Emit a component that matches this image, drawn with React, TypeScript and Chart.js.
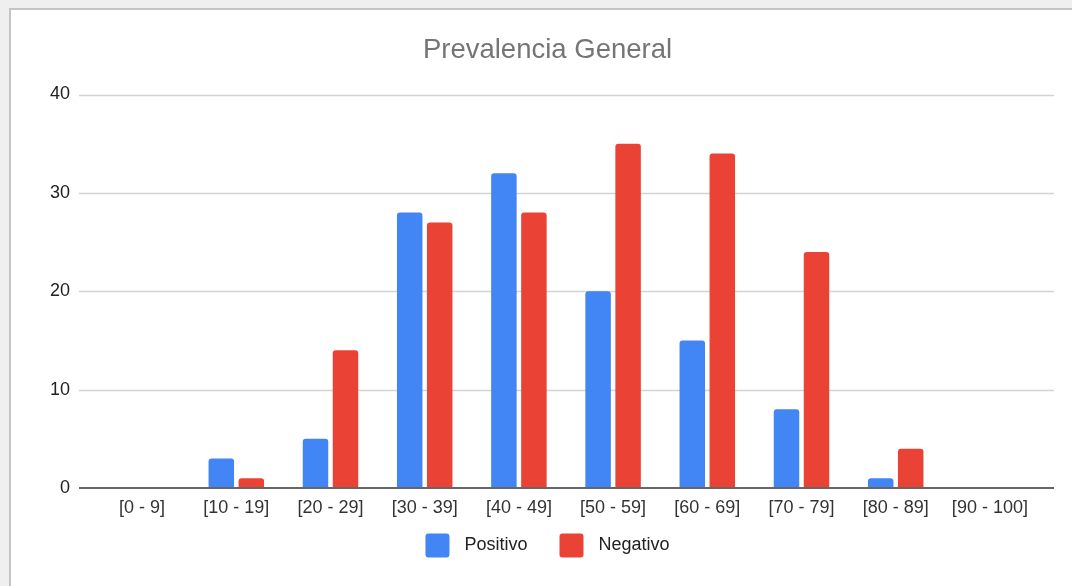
import React, { useEffect, useRef } from "react";
import { Chart, registerables } from "chart.js";

Chart.register(...registerables);

const categories = ["[0 - 9]", "[10 - 19]", "[20 - 29]", "[30 - 39]", "[40 - 49]", "[50 - 59]", "[60 - 69]", "[70 - 79]", "[80 - 89]", "[90 - 100]"];
const positivo = [0, 3, 5, 28, 32, 20, 15, 8, 1, 0];
const negativo = [0, 1, 14, 27, 28, 35, 34, 24, 4, 0];
const seriesNames = ["Positivo", "Negativo"];
const seriesColors = ["#4285F4", "#EA4335"];
const titleText = "Prevalencia General";
const yMin = 0;
const yMax = 40;
const yStep = 10;

const FONT = "'Liberation Sans', Arial, Helvetica, sans-serif";

const gridPlugin = {
  id: "extGrid",
  beforeDatasetsDraw(chart: any) {
    const { ctx, chartArea, scales } = chart;
    const y = scales.y;
    ctx.save();
    ctx.strokeStyle = "#d3d3d3";
    ctx.lineWidth = 1.5;
    y.ticks.forEach((t: any) => {
      if (t.value === 0) return;
      const py = Math.round(y.getPixelForValue(t.value)) + 0.5;
      ctx.beginPath();
      ctx.moveTo(chartArea.left - 16, py);
      ctx.lineTo(chartArea.right + 17, py);
      ctx.stroke();
    });
    ctx.restore();
  },
  afterDatasetsDraw(chart: any) {
    const { ctx, chartArea, scales } = chart;
    const y = scales.y;
    ctx.save();
    ctx.strokeStyle = "#666666";
    ctx.lineWidth = 2;
    const py = Math.round(y.getPixelForValue(0));
    ctx.beginPath();
    ctx.moveTo(chartArea.left - 16, py);
    ctx.lineTo(chartArea.right + 17, py);
    ctx.stroke();
    ctx.restore();
  },
};

const legendPlugin = {
  id: "customLegend",
  afterDraw(chart: any) {
    const { ctx, width } = chart;
    const box = 24;
    const gapText = 15;
    const gapItem = 32;
    ctx.save();
    ctx.font = `18px ${FONT}`;
    const items = chart.data.datasets.map((ds: any) => ({
      label: ds.label,
      color: ds.backgroundColor,
      w: ctx.measureText(ds.label).width,
    }));
    let total = 0;
    items.forEach((it: any, i: number) => {
      total += box + gapText + it.w + (i < items.length - 1 ? gapItem : 0);
    });
    let x = width / 2 - total / 2;
    const cy = 535.5;
    items.forEach((it: any) => {
      ctx.fillStyle = it.color;
      ctx.beginPath();
      (ctx as any).roundRect(x, cy - box / 2, box, box, 3);
      ctx.fill();
      ctx.fillStyle = "#222222";
      ctx.textBaseline = "middle";
      ctx.textAlign = "left";
      ctx.fillText(it.label, x + box + gapText, cy);
      x += box + gapText + it.w + gapItem;
    });
    ctx.restore();
  },
};

export default function App() {
  const ref = useRef<HTMLCanvasElement | null>(null);

  useEffect(() => {
    if (!ref.current) return;
    const chart = new Chart(ref.current, {
      type: "bar",
      data: {
        labels: categories,
        datasets: [
          {
            label: seriesNames[0],
            data: positivo,
            backgroundColor: seriesColors[0],
            borderRadius: 3,
            categoryPercentage: 0.637,
            barPercentage: 0.85,
          },
          {
            label: seriesNames[1],
            data: negativo,
            backgroundColor: seriesColors[1],
            borderRadius: 3,
            categoryPercentage: 0.637,
            barPercentage: 0.85,
          },
        ],
      },
      options: {
        responsive: false,
        animation: false,
        devicePixelRatio: 1,
        layout: { padding: { left: 0, right: 0, top: 0, bottom: 0 } },
        plugins: {
          legend: { display: false },
          tooltip: { enabled: false },
          title: {
            display: true,
            text: titleText,
            color: "#757575",
            font: { family: FONT, size: 27.5, weight: "normal" },
            padding: { top: 24, bottom: 27.5 },
          },
        },
        scales: {
          x: {
            grid: { display: false, drawTicks: false },
            border: { display: false },
            ticks: {
              color: "#333333",
              font: { family: FONT, size: 18 },
              padding: 9,
              autoSkip: false,
              maxRotation: 0,
            },
            afterFit(scale: any) {
              scale.height = 98;
            },
          },
          y: {
            min: yMin,
            max: yMax,
            grid: { display: false, drawTicks: false },
            border: { display: false },
            ticks: {
              stepSize: yStep,
              color: "#222222",
              font: { family: FONT, size: 18 },
              padding: 25,
            },
            afterFit(scale: any) {
              scale.width = 84;
            },
          },
          yRight: {
            position: "right",
            display: true,
            min: yMin,
            max: yMax,
            grid: { display: false, drawTicks: false },
            border: { display: false },
            ticks: { display: false },
            afterFit(scale: any) {
              scale.width = 47;
            },
          },
        },
      },
      plugins: [gridPlugin, legendPlugin],
    });
    return () => chart.destroy();
  }, []);

  return (
    <div style={{ position: "fixed", inset: 0, background: "#efefef", overflow: "hidden" }}>
      <div
        style={{
          position: "absolute",
          left: 9,
          top: 8,
          width: 1100,
          height: 600,
          background: "#ffffff",
          borderLeft: "2px solid #c4c4c4",
          borderTop: "2px solid #c4c4c4",
        }}
      >
        <canvas ref={ref} width={1073} height={576} style={{ display: "block" }} />
      </div>
    </div>
  );
}
